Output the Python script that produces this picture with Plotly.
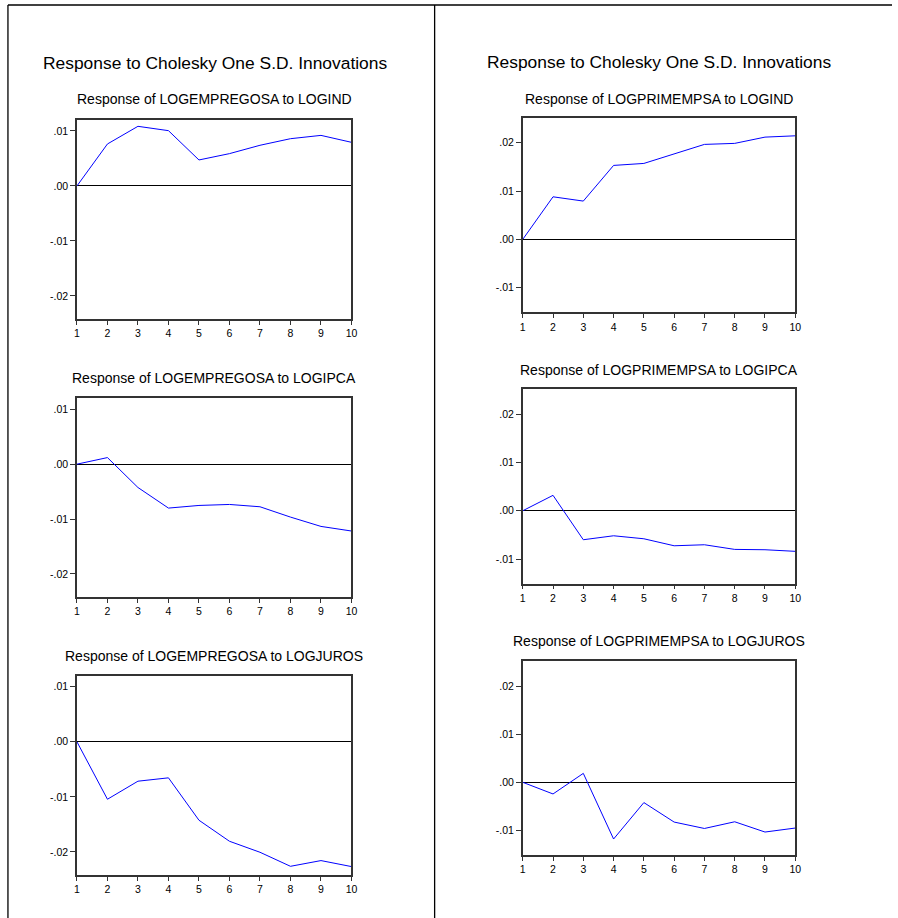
import plotly.graph_objects as go

# ---- data ----
periods = [1, 2, 3, 4, 5, 6, 7, 8, 9, 10]

emp_to_ind = [0.0, 0.00764, 0.01085, 0.01006, 0.00473, 0.00588, 0.0074, 0.0086, 0.0092, 0.00794]
emp_to_ipca = [0.0, 0.0012, -0.00425, -0.0080, -0.00752, -0.00734, -0.00776, -0.00964, -0.01134, -0.01218]
emp_to_juros = [0.0, -0.01044, -0.00716, -0.00655, -0.01425, -0.01807, -0.02007, -0.02262, -0.02158, -0.02267]

prim_to_ind = [0.0, 0.00882, 0.00793, 0.01532, 0.01573, 0.01772, 0.01967, 0.01988, 0.02118, 0.02145]
prim_to_ipca = [0.0, 0.00319, -0.0060, -0.00518, -0.0058, -0.00725, -0.00704, -0.0080, -0.00807, -0.0084]
prim_to_juros = [0.0, -0.00242, 0.00186, -0.01178, -0.00421, -0.00826, -0.00959, -0.0082, -0.01033, -0.0095]

left_yticks = [0.01, 0.0, -0.01, -0.02]
left_yticklabels = [".01", ".00", "-.01", "-.02"]
right_yticks = [0.02, 0.01, 0.0, -0.01]
right_yticklabels = [".02", ".01", ".00", "-.01"]

left_range = [-0.0242, 0.0120]
right_range = [-0.0151, 0.0252]

main_title = "Response to Cholesky One S.D. Innovations"
panel_titles = [
    "Response of LOGEMPREGOSA to LOGIND",
    "Response of LOGPRIMEMPSA to LOGIND",
    "Response of LOGEMPREGOSA to LOGIPCA",
    "Response of LOGPRIMEMPSA to LOGIPCA",
    "Response of LOGEMPREGOSA to LOGJUROS",
    "Response of LOGPRIMEMPSA to LOGJUROS",
]

# ---- layout geometry (pixels) ----
W, H = 898, 918
FONT = "Arial, Liberation Sans, sans-serif"

panels = [
    # series, x0, x1, y0(top), y1(bottom), side, title y
    (emp_to_ind, 74.7, 352.0, 120.0, 319.0, "L", 99.5),
    (prim_to_ind, 525.0, 800.3, 117.7, 312.3, "R", 98.7),
    (emp_to_ipca, 74.7, 352.0, 398.3, 597.0, "L", 378.3),
    (prim_to_ipca, 525.0, 800.3, 389.0, 583.7, "R", 370.0),
    (emp_to_juros, 74.7, 352.0, 675.7, 875.0, "L", 655.7),
    (prim_to_juros, 525.0, 800.3, 661.0, 855.0, "R", 640.7),
]

fig = go.Figure()
layout = dict(
    width=W, height=H,
    margin=dict(l=0, r=0, t=0, b=0),
    paper_bgcolor="white", plot_bgcolor="white",
    showlegend=False,
    font=dict(family=FONT, color="black"),
)
annotations = []

for i, (ser, x0, x1, yt, yb, side, ty) in enumerate(panels):
    n = i + 1
    xa = "x" if n == 1 else f"x{n}"
    ya = "y" if n == 1 else f"y{n}"
    fig.add_trace(go.Scatter(
        x=periods, y=ser, mode="lines", xaxis=xa, yaxis=ya,
        line=dict(color="#0000FF", width=1), hoverinfo="skip",
    ))
    if side == "L":
        tv, tt, rng = left_yticks, left_yticklabels, left_range
    else:
        tv, tt, rng = right_yticks, right_yticklabels, right_range
    common_line = dict(showline=True, linecolor="#333333", linewidth=1.5, mirror=True,
                       showgrid=False)
    layout["xaxis" if n == 1 else f"xaxis{n}"] = dict(
        domain=[x0 / W, x1 / W], anchor=ya, range=[1, 10],
        tickmode="array", tickvals=periods, ticktext=[str(p) for p in periods],
        ticks="outside", ticklen=4, tickwidth=1, tickcolor="#333333",
        tickfont=dict(size=10.5, family=FONT, color="black"),
        zeroline=False, fixedrange=True, **common_line,
    )
    layout["yaxis" if n == 1 else f"yaxis{n}"] = dict(
        domain=[1 - yb / H, 1 - yt / H], anchor=xa, range=rng,
        tickmode="array", tickvals=tv, ticktext=tt,
        ticks="outside", ticklen=5, tickwidth=1, tickcolor="#333333",
        tickfont=dict(size=10.5, family=FONT, color="black"),
        zeroline=True, zerolinecolor="black", zerolinewidth=1,
        fixedrange=True, **common_line,
    )
    annotations.append(dict(
        text=panel_titles[i], xref="paper", yref="paper",
        x=(x0 + x1) / 2 / W, y=1 - ty / H, xanchor="center", yanchor="middle",
        showarrow=False, font=dict(size=14, family=FONT, color="black"),
    ))

annotations.append(dict(text=main_title, xref="paper", yref="paper",
                        x=214 / W, y=1 - 63 / H, xanchor="center", yanchor="middle",
                        showarrow=False, font=dict(size=17.4, family=FONT, color="black")))
annotations.append(dict(text=main_title, xref="paper", yref="paper",
                        x=663 / W, y=1 - 62 / H, xanchor="center", yanchor="middle",
                        showarrow=False, font=dict(size=17.4, family=FONT, color="black")))

shapes = [
    dict(type="line", xref="paper", yref="paper", x0=5 / W, x1=1, y0=1 - 5 / H, y1=1 - 5 / H,
         line=dict(color="black", width=1.3)),
    dict(type="line", xref="paper", yref="paper", x0=5 / W, x1=5 / W, y0=0, y1=1 - 5 / H,
         line=dict(color="black", width=1.3)),
    dict(type="line", xref="paper", yref="paper", x0=436 / W, x1=436 / W, y0=0, y1=1 - 5 / H,
         line=dict(color="black", width=1.3)),
]

layout["annotations"] = annotations
layout["shapes"] = shapes
fig.update_layout(**layout)
fig.write_html(
    "out.html",
    config={"displayModeBar": False},
    post_script="document.body.style.margin='0px';document.body.style.overflow='hidden';",
)
